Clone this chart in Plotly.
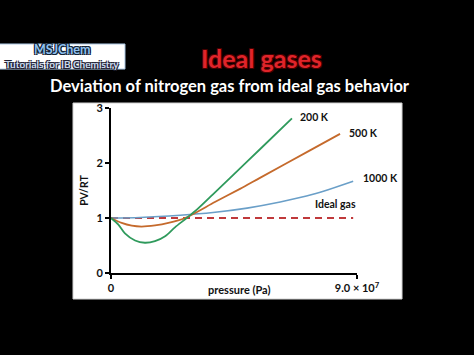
import plotly.graph_objects as go

# ---- data ----
p_200 = [0, 0.27e7, 0.51e7, 0.88e7, 1.24e7, 1.61e7, 1.98e7, 2.34e7, 2.77e7, 3.18e7, 3.73e7, 4.36e7, 5.45e7, 6.62e7]
z_200 = [1.0, 0.88, 0.72, 0.59, 0.55, 0.58, 0.67, 0.83, 1.0, 1.17, 1.43, 1.73, 2.25, 2.81]

p_500 = [0, 0.39e7, 0.76e7, 1.12e7, 1.61e7, 2.1e7, 2.71e7, 3.8e7, 4.72e7, 5.45e7, 7.28e7, 8.38e7]
z_500 = [1.0, 0.91, 0.86, 0.845, 0.865, 0.91, 1.0, 1.29, 1.53, 1.73, 2.23, 2.53]

p_1000 = [0, 1.06e7, 2.53e7, 3.73e7, 4.98e7, 6.19e7, 7.39e7, 8.86e7]
z_1000 = [1.0, 1.01, 1.05, 1.1, 1.18, 1.29, 1.43, 1.67]

p_ideal = [0, 8.86e7]
z_ideal = [1.0, 1.0]

x_tickvals = [0, 9.0e7]
x_ticktext = ["<b>0</b>", "<b>9.0 × 10<sup>7</sup></b>"]
y_tickvals = [0, 1, 2, 3]
y_ticktext = ["<b>0</b>", "<b>1</b>", "<b>2</b>", "<b>3</b>"]

labels = ["200 K", "500 K", "1000 K", "Ideal gas"]
label_x = [0.760, 0.959, 1.016, 0.821]   # paper units
label_y = [0.945, 0.848, 0.576, 0.418]   # paper units

FONT = "Lato"

fig = go.Figure()
fig.add_trace(go.Scatter(x=p_ideal, y=z_ideal, mode="lines",
                         line=dict(color="#c0393b", width=2, dash="7px,5px"), name="Ideal gas"))
fig.add_trace(go.Scatter(x=p_1000, y=z_1000, mode="lines", line_shape="spline",
                         line=dict(color="#6a9fc8", width=1.6, smoothing=0.8), name="1000 K"))
fig.add_trace(go.Scatter(x=p_500, y=z_500, mode="lines", line_shape="spline",
                         line=dict(color="#c56a2c", width=1.8, smoothing=0.8), name="500 K"))
fig.add_trace(go.Scatter(x=p_200, y=z_200, mode="lines", line_shape="spline",
                         line=dict(color="#2f9a5c", width=1.8, smoothing=0.8), name="200 K"))

for t, lx, ly in zip(labels, label_x, label_y):
    fig.add_annotation(x=lx, y=ly, xref="paper", yref="paper", text="<b>" + t + "</b>",
                       showarrow=False, xanchor="left", yanchor="middle",
                       font=dict(family=FONT, size=10.5, color="#111"))

# panel and logo background
fig.add_shape(type="rect", xref="paper", yref="paper", x0=-0.1545, x1=1.183, y0=-0.1576, y1=1.0303,
              fillcolor="white", line=dict(color="#d0d0d0", width=1), layer="below")
fig.add_shape(type="rect", xref="paper", yref="paper", x0=-0.46, x1=0.0569, y0=1.236, y1=1.388,
              fillcolor="white", line=dict(color="#a8c4e0", width=1), layer="below")

fig.add_annotation(x=-0.196, y=1.352, xref="paper", yref="paper", text="<b>MSJChem</b>",
                   showarrow=False, xanchor="center", yanchor="middle",
                   font=dict(family=FONT, size=12.5, color="#8fc0ee",
                             shadow="1px 1px 0 #123, -1px -1px 0 #123, 1px -1px 0 #123, -1px 1px 0 #123"))
fig.add_annotation(x=-0.199, y=1.268, xref="paper", yref="paper", text="<b>Tutorials for IB Chemistry</b>",
                   showarrow=False, xanchor="center", yanchor="middle",
                   font=dict(family=FONT, size=10, color="#c8d8ec",
                             shadow="1px 1px 0 #223, -1px -1px 0 #223, 1px -1px 0 #223, -1px 1px 0 #223"))
fig.add_annotation(x=0.61, y=1.303, xref="paper", yref="paper", text="<b>Ideal gases</b>",
                   showarrow=False, xanchor="center", yanchor="middle",
                   font=dict(family=FONT, size=25, color="#e0242a",
                             shadow="1px 1px 0 #400, -1px -1px 0 #400, 1px -1px 0 #400, -1px 1px 0 #400"))
fig.add_annotation(x=0.484, y=1.133, xref="paper", yref="paper",
                   text="<b>Deviation of nitrogen gas from ideal gas behavior</b>",
                   showarrow=False, xanchor="center", yanchor="middle",
                   font=dict(family=FONT, size=16.5, color="white"))
fig.add_annotation(x=0.524, y=-0.097, xref="paper", yref="paper", text="<b>pressure (Pa)</b>",
                   showarrow=False, xanchor="center", yanchor="middle",
                   font=dict(family=FONT, size=11, color="#111"))

axis_common = dict(showline=True, linewidth=2, linecolor="black", ticks="outside", ticklen=4,
                   tickwidth=1.5, tickcolor="black", showgrid=False, zeroline=False,
                   tickfont=dict(family=FONT, size=11, color="#111"))

fig.update_layout(
    width=474, height=355,
    margin=dict(l=111, r=117, t=108, b=82),
    paper_bgcolor="black", plot_bgcolor="white",
    showlegend=False,
    xaxis=dict(range=[0, 9.0e7], tickvals=x_tickvals, ticktext=x_ticktext, **axis_common),
    yaxis=dict(range=[0, 3], tickvals=y_tickvals, ticktext=y_ticktext,
               title=dict(text="<b>PV/RT</b>", standoff=6,
                          font=dict(family=FONT, size=10.5, color="#111")),
               **axis_common),
)

fig.write_html("out.html")
